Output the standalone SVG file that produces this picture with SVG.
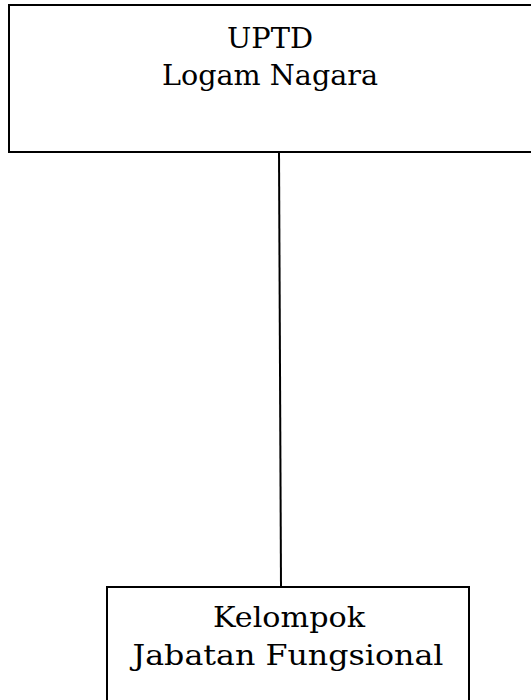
<svg xmlns="http://www.w3.org/2000/svg" width="531" height="700" viewBox="0 0 531 700">
<style>
.box{fill:#fff;stroke:#000;stroke-width:2}
.t{font-family:"DejaVu Serif","Liberation Serif",serif;font-size:28px;fill:#000;text-anchor:middle}
.c{stroke:#000;stroke-width:2;fill:none}
</style>
<rect width="531" height="700" fill="#fff"/>
<g id="connectors">
<line class="c" x1="279" y1="152" x2="281" y2="587"/>
</g>
<g id="n1">
<rect class="box" x="9" y="5" width="530" height="147"/>
<text class="t" x="270" y="48" textLength="86" lengthAdjust="spacingAndGlyphs">UPTD</text>
<text class="t" x="270" y="85" textLength="216" lengthAdjust="spacingAndGlyphs">Logam Nagara</text>
</g>
<g id="n2">
<rect class="box" x="107" y="587" width="362" height="130"/>
<text class="t" x="289" y="627" textLength="152" lengthAdjust="spacingAndGlyphs">Kelompok</text>
<text class="t" x="288" y="665" textLength="311" lengthAdjust="spacingAndGlyphs">Jabatan Fungsional</text>
</g>
</svg>
